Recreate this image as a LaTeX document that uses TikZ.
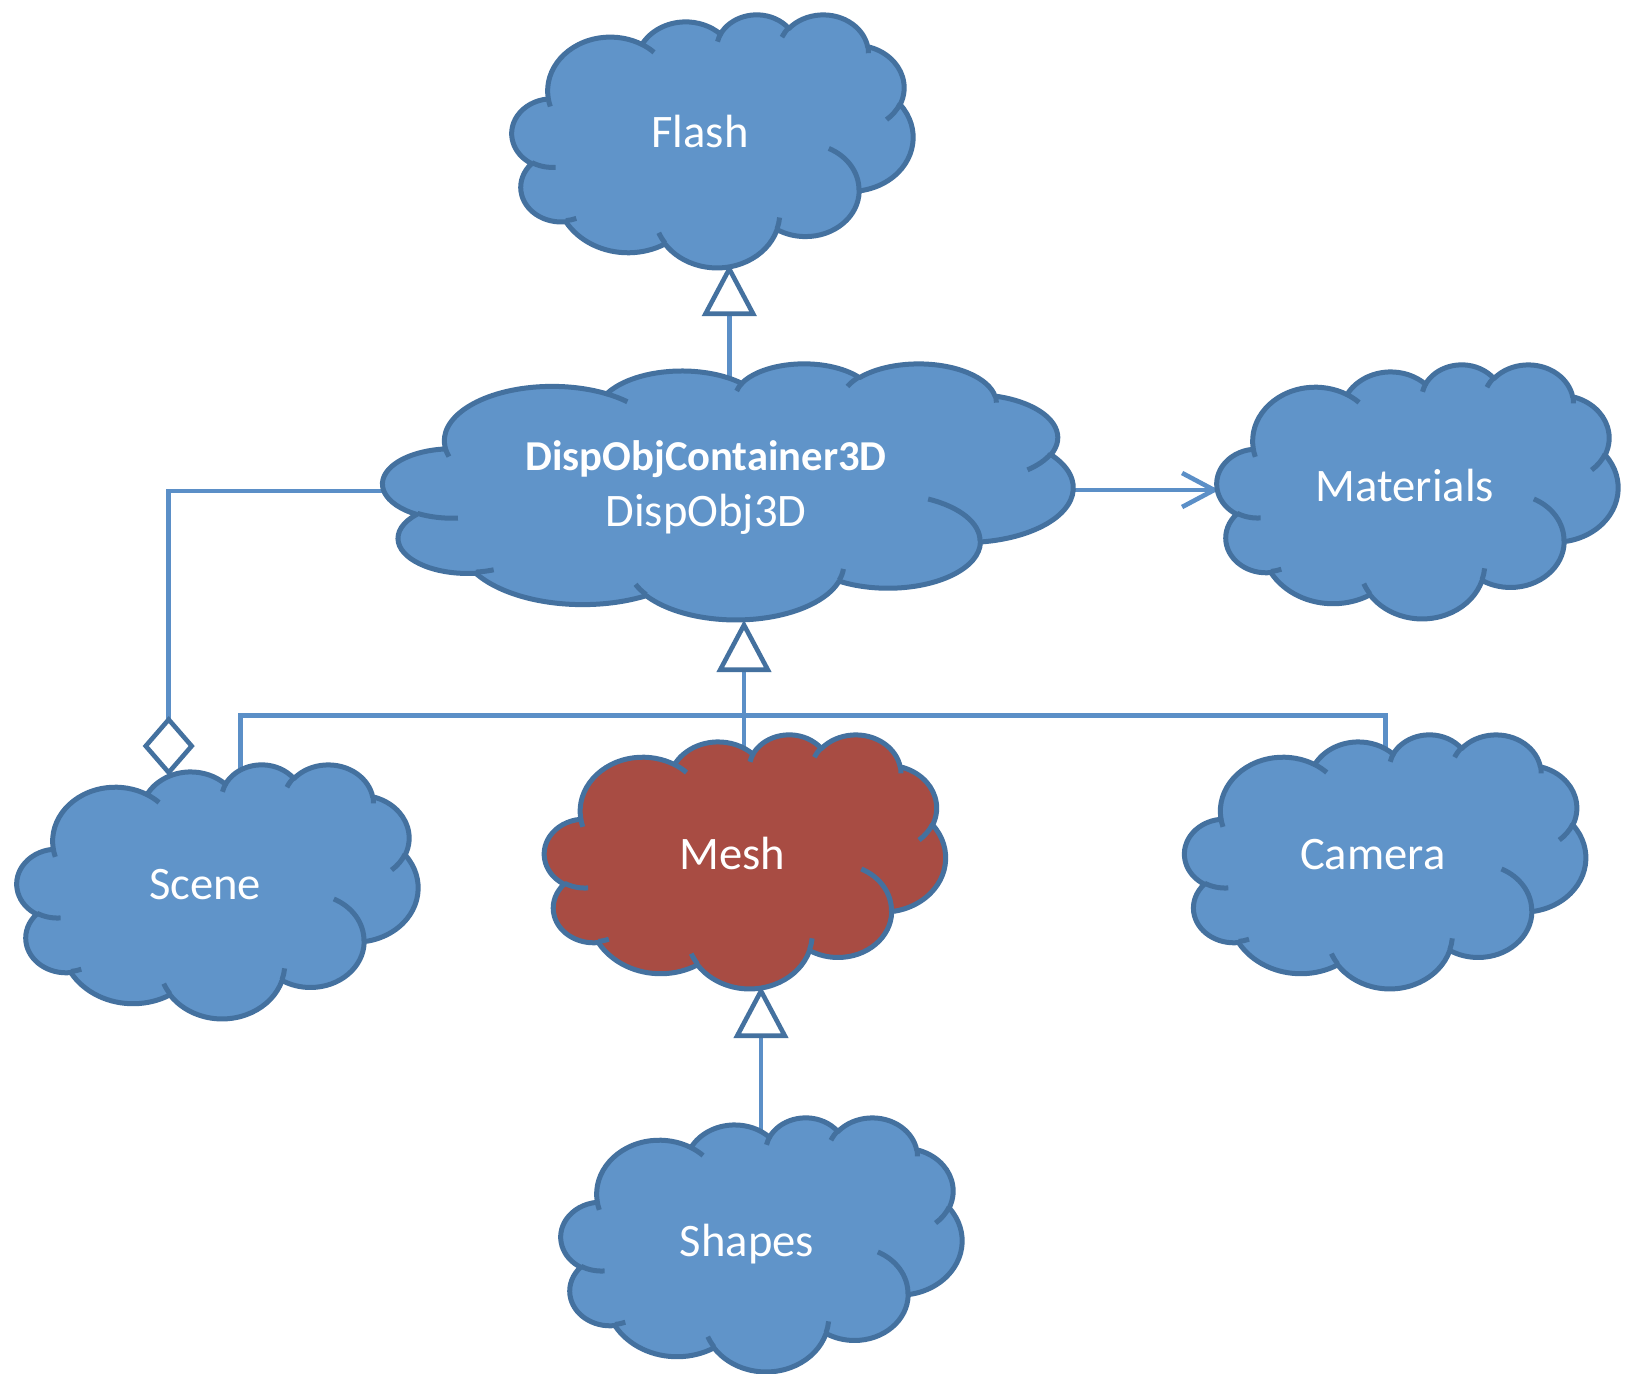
\documentclass[tikz,border=0pt]{standalone}
\usepackage{fontspec}
\setmainfont{Carlito}
\usetikzlibrary{arrows.meta}
\definecolor{cfill}{HTML}{6094C9}
\definecolor{cline}{HTML}{44719F}
\definecolor{conn}{HTML}{5B8FC7}
\definecolor{mfill}{HTML}{A84C43}
\makeatletter
\gdef\cloudmain{}
\gdef\clouddetail{}
\newcommand\addarc[5]{%
  \pgfmathsetmacro\ca@s{atan2((#2)*sin(#4),(#3)*cos(#4))}%
  \pgfmathsetmacro\ca@e{atan2((#2)*sin((#4)+(#5)),(#3)*cos((#4)+(#5)))}%
  \pgfmathsetmacro\ca@e{\ca@e+360*(\ca@e<\ca@s)}%
  \xdef#1{#1 arc[x radius=#2,y radius=#3,start angle=\ca@s,end angle=\ca@e]}%
}
\newcommand\addmove[3]{\xdef#1{#1 (#2,#3)}}
\makeatother
\addarc\cloudmain{67.53}{91.90}{-190.48748}{123.78053}
\addarc\cloudmain{53.33}{72.67}{-144.10238}{89.94523}
\addarc\cloudmain{43.65}{59.45}{-145.80792}{99.72302}
\addarc\cloudmain{48.57}{65.95}{-130.98607}{117.24173}
\addarc\cloudmain{53.33}{72.73}{-78.70888}{109.02692}
\addarc\cloudmain{67.75}{92.20}{-46.26725}{130.269}
\addarc\cloudmain{57.85}{78.67}{0.62502}{114.03333}
\addarc\cloudmain{67.52}{92.15}{22.4516}{115.17255}
\addarc\cloudmain{77.20}{105.43}{66.24263}{75.71102}
\addarc\cloudmain{43.60}{59.18}{-274.94208}{146.73557}
\addarc\cloudmain{43.45}{59.45}{-246.8285}{152.51885}
\addmove\clouddetail{46.93}{261.77}\addarc\clouddetail{43.45}{59.45}{86.742}{26.4295}
\addmove\clouddetail{69.28}{348.99}\addarc\clouddetail{43.60}{59.18}{73.61047}{11.44747}
\addmove\clouddetail{164.78}{390.90}\addarc\clouddetail{67.52}{92.15}{137.62415}{14.0811}
\addmove\clouddetail{288.27}{347.51}\addarc\clouddetail{67.52}{92.15}{6.45327}{15.99835}
\addmove\clouddetail{341.29}{229.54}\addarc\clouddetail{57.85}{78.67}{-70.29235}{70.91737}
\addmove\clouddetail{417.98}{153.54}\addarc\clouddetail{53.33}{72.73}{30.31803}{27.7515}
\addmove\clouddetail{383.24}{54.26}\addarc\clouddetail{48.57}{65.95}{-13.74433}{14.8589}
\addmove\clouddetail{290.78}{39.52}\addarc\clouddetail{48.57}{65.95}{-149.18145}{18.19537}
\addmove\clouddetail{221.41}{47.20}\addarc\clouddetail{43.65}{59.45}{-163.49427}{17.68635}
\addmove\clouddetail{140.00}{51.92}\addarc\clouddetail{67.53}{91.90}{-66.70695}{12.31935}
\addmove\clouddetail{41.27}{157.89}\addarc\clouddetail{67.53}{91.90}{157.65435}{11.85817}
\newcommand\drawcloud[5]{%
  \begin{scope}[shift={(#1,#2)},xscale=#3/432,yscale=#4/432]
    \filldraw[fill=#5,draw=cline,line width=2.5pt,line join=round] (39.00,143.70) \cloudmain -- cycle;
    \draw[cline,line width=2.5pt] \clouddetail;
  \end{scope}}
\tikzset{
  conline/.style={conn,line width=2.3pt},
  inherit/.style={conline,-{Triangle[open,length=26pt,width=27pt,color=cline]}},
  aggr/.style={conline,-{Diamond[open,length=30pt,width=26pt,color=cline]}},
  assoc/.style={conline,-{Straight Barb[length=16pt,width=17pt]}},
  lbl/.style={text=white,anchor=base,inner sep=0pt,font=\fontsize{23.3}{28}\selectfont},
  lblb/.style={text=white,anchor=base,inner sep=0pt,font=\fontsize{21.3}{26}\selectfont\bfseries}
}
\begin{document}
\begin{tikzpicture}[x=0.5pt,y=-0.5pt]
\useasboundingbox[fill=white] (0,0) rectangle (1625,1373);
% connector anchor points
\coordinate (flashB) at (729.3,264);
\coordinate (dispT) at (729.3,392);
\coordinate (dispB) at (744,620);
\coordinate (meshT) at (744,755);
\coordinate (meshB) at (761,986);
\coordinate (shapesT) at (761,1140);
\coordinate (sceneT) at (240.7,790);
\coordinate (cameraT) at (1385.6,755);
\coordinate (busL) at (240.7,715.7);
\coordinate (busR) at (1385.6,715.7);
\coordinate (dispL) at (395,491);
\coordinate (aggC) at (168.7,491);
\coordinate (sceneD) at (168.7,776);
\coordinate (dispR) at (1060,490);
\coordinate (matL) at (1219,490);
% connectors
\draw[inherit] (dispT) -- (flashB);
\draw[inherit] (meshT) -- (dispB);
\draw[inherit] (shapesT) -- (meshB);
\draw[conline] (sceneT) -- (busL) -- (busR) -- (cameraT);
\draw[aggr] (dispL) -- (aggC) -- (sceneD);
\draw[assoc] (dispR) -- (matL);
% clouds
\drawcloud{512}{14}{401}{253}{cfill}
\node[lbl] (flash) at (700,147.7) {Flash};
\drawcloud{383}{363}{690}{256}{cfill}
\node[lblb] (disp) at (706,470.7) {DispObjContainer3D};
\node[lbl] (disp2) at (706,526) {DispObj3D};
\drawcloud{1217}{364}{401}{254}{cfill}
\node[lbl] (mat) at (1405,501) {Materials};
\drawcloud{17}{764}{401}{254}{cfill}
\node[lbl] (scene) at (205,899) {Scene};
\drawcloud{544.5}{734}{401}{254}{mfill}
\node[lbl] (mesh) at (732.5,869) {Mesh};
\drawcloud{1184.7}{734}{401}{254}{cfill}
\node[lbl] (camera) at (1372.7,869) {Camera};
\drawcloud{561}{1117}{401}{254}{cfill}
\node[lbl] (shapes) at (747,1256) {Shapes};
\end{tikzpicture}
\end{document}
